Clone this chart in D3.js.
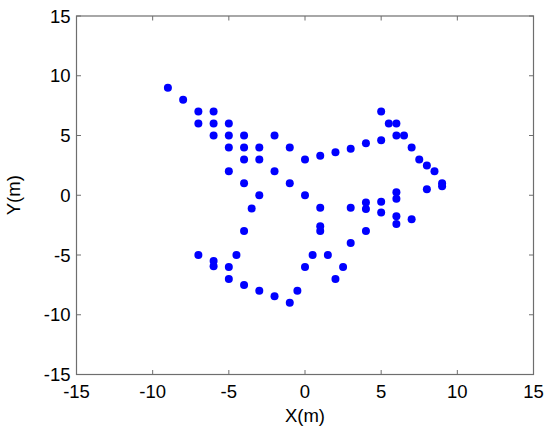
<!DOCTYPE html>
<html>
<head>
<meta charset="utf-8">
<script src="https://d3js.org/d3.v7.min.js"></script>
<style>
  body { margin: 0; background: #fff; }
  text { font-family: "Liberation Sans", Arial, sans-serif; }
</style>
</head>
<body>
<svg id="chart" width="550" height="437"></svg>
<script>
// point data
var xs = [-9, -8, -7, -6, -7, -6, -5, -6, -5, -4, -2, -5, -4, -3, -4, -3, -5, -2, -4, -3, -3.5,
          -1, 0, 1, 2, 3, 4, 5, 5, 5.5, 6, 6, 6.5, 7, 7.5, 8, 8.5, 9, 9, 8,
          -1, 0, 6, 6, 5, 4, 4, 3, 1, 5, 6, 7, 6, 1, 1, 4, 3, 1.5, 0.5, 2.5, 0, 2, -0.5, -1,
          -4, -7, -6, -6, -5, -4.5, -5, -4, -3, -2];
var ys = [9, 8, 7, 7, 6, 6, 6, 5, 5, 5, 5, 4, 4, 4, 3, 3, 2, 2, 1, 0, -1.1,
          4, 3, 3.3, 3.6, 3.9, 4.35, 4.6, 7, 6, 6, 5, 5, 4, 3, 2.5, 2, 1, 0.75, 0.5,
          1, 0, 0.25, -0.3, -0.55, -0.6, -1.15, -1.05, -1.05, -1.45, -1.75, -2, -2.4, -2.6, -3, -3, -4, -5, -5, -6, -6, -7, -8, -9,
          -3, -5, -5.5, -5.95, -6, -5, -7, -7.5, -8, -8.45];
var xTicks = [-15, -10, -5, 0, 5, 10, 15];
var yTicks = [-15, -10, -5, 0, 5, 10, 15];

var svg = d3.select("#chart");
var plotLeft = 76.5, plotRight = 533.5, plotTop = 16, plotBottom = 374.5;

var x = d3.scaleLinear().domain([-15, 15]).range([plotLeft, plotRight]);
var y = d3.scaleLinear().domain([-15, 15]).range([plotBottom, plotTop]);

var axisColor = "#6e6e6e";

// box
svg.append("rect")
    .attr("x", plotLeft).attr("y", plotTop)
    .attr("width", plotRight - plotLeft).attr("height", plotBottom - plotTop)
    .attr("fill", "none")
    .attr("stroke", axisColor)
    .attr("stroke-width", 1.2);

// ticks inward on all four sides
var g = svg.append("g").attr("stroke", axisColor).attr("stroke-width", 1);
xTicks.forEach(function(t) {
    g.append("line").attr("x1", x(t)).attr("x2", x(t)).attr("y1", plotBottom).attr("y2", plotBottom - 4.5);
    g.append("line").attr("x1", x(t)).attr("x2", x(t)).attr("y1", plotTop).attr("y2", plotTop + 4.5);
});
yTicks.forEach(function(t) {
    g.append("line").attr("x1", plotLeft).attr("x2", plotLeft + 4.5).attr("y1", y(t)).attr("y2", y(t));
    g.append("line").attr("x1", plotRight).attr("x2", plotRight - 4.5).attr("y1", y(t)).attr("y2", y(t));
});

// tick labels
svg.append("g").selectAll("text")
    .data(xTicks)
    .enter()
    .append("text")
    .attr("x", function(d) { return x(d); })
    .attr("y", 397.5)
    .attr("text-anchor", "middle")
    .attr("font-size", "18.5px")
    .text(function(d) { return d; });

svg.append("g").selectAll("text")
    .data(yTicks)
    .enter()
    .append("text")
    .attr("x", plotLeft - 6)
    .attr("y", function(d) { return y(d) + 6.5; })
    .attr("text-anchor", "end")
    .attr("font-size", "18.5px")
    .text(function(d) { return d; });

// axis titles
svg.append("text")
    .attr("x", x(0))
    .attr("y", 422)
    .attr("text-anchor", "middle")
    .attr("font-size", "18.5px")
    .text("X(m)");

svg.append("text")
    .attr("transform", "translate(20," + y(0) + ") rotate(-90)")
    .attr("text-anchor", "middle")
    .attr("font-size", "18.5px")
    .text("Y(m)");

// points
svg.append("g")
    .selectAll("circle")
    .data(xs)
    .enter()
    .append("circle")
    .attr("cx", function(d) { return x(d); })
    .attr("cy", function(d, i) { return y(ys[i]); })
    .attr("r", 4)
    .attr("fill", "#0000ff");
</script>
</body>
</html>
